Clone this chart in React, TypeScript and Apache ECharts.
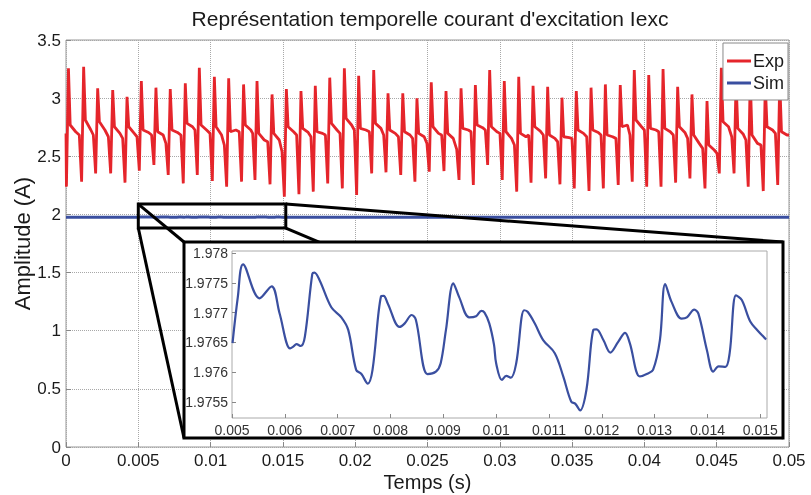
import React, { useEffect, useRef } from 'react';
import * as echarts from 'echarts';

// ---------- main axis ----------
const mainXTicks = [0, 0.005, 0.01, 0.015, 0.02, 0.025, 0.03, 0.035, 0.04, 0.045, 0.05];
const mainYTicks = [0, 0.5, 1, 1.5, 2, 2.5, 3, 3.5];

// ---------- Exp (measured) signal, read per spike ----------
const spikeT = [0.00017, 0.00122, 0.00219, 0.00323, 0.00422, 0.00521, 0.00622, 0.00721, 0.00825, 0.00922,
  0.01026, 0.01125, 0.01228, 0.01321, 0.01425, 0.01524, 0.01625, 0.01724, 0.01824, 0.01925,
  0.02024, 0.02128, 0.02227, 0.02329, 0.02427, 0.02526, 0.02628, 0.02732, 0.02831, 0.0293,
  0.03031, 0.03131, 0.0323, 0.03331, 0.0343, 0.03529, 0.03631, 0.0373, 0.03833, 0.0393,
  0.0403, 0.04129, 0.0423, 0.04329, 0.04433, 0.04532, 0.04634, 0.04732, 0.04836, 0.04936];
const upTip = [3.256, 3.270, 3.084, 3.070, 3.012, 3.147, 3.090, 3.078, 3.127, 3.262,
  3.184, 3.170, 3.118, 3.147, 3.032, 3.078, 3.061, 3.107, 3.176, 3.256,
  3.193, 3.242, 3.041, 3.041, 2.998, 3.136, 3.061, 3.084, 3.113, 3.242,
  3.147, 3.184, 3.107, 3.098, 3.004, 3.061, 3.090, 3.118, 3.113, 3.242,
  3.199, 3.250, 3.098, 3.032, 2.975, 3.262, 3.150, 3.180, 3.120, 3.150];
const downTip = [2.239, 2.282, 2.353, 2.353, 2.273, 2.376, 2.425, 2.339, 2.267, 2.339,
  2.287, 2.239, 2.282, 2.296, 2.259, 2.153, 2.173, 2.196, 2.267, 2.224,
  2.167, 2.353, 2.362, 2.339, 2.282, 2.368, 2.373, 2.296, 2.253, 2.425,
  2.296, 2.196, 2.273, 2.310, 2.259, 2.224, 2.201, 2.224, 2.253, 2.282,
  2.239, 2.239, 2.273, 2.310, 2.224, 2.353, 2.353, 2.239, 2.201, 2.253];
const preLevel = [2.697, 2.683, 2.683, 2.668, 2.654, 2.668, 2.683, 2.611, 2.683, 2.726,
  2.697, 2.597, 2.711, 2.697, 2.625, 2.539, 2.683, 2.668, 2.683, 2.697,
  2.726, 2.711, 2.683, 2.668, 2.654, 2.611, 2.683, 2.560, 2.711, 2.726,
  2.697, 2.597, 2.683, 2.683, 2.625, 2.654, 2.668, 2.683, 2.654, 2.683,
  2.726, 2.711, 2.683, 2.654, 2.568, 2.525, 2.668, 2.640, 2.597, 2.697];
const postLevel = [2.769, 2.812, 2.797, 2.754, 2.754, 2.726, 2.711, 2.726, 2.783, 2.769,
  2.754, 2.711, 2.769, 2.697, 2.697, 2.754, 2.740, 2.711, 2.783, 2.826,
  2.740, 2.783, 2.726, 2.711, 2.697, 2.754, 2.697, 2.740, 2.769, 2.754,
  2.711, 2.697, 2.754, 2.683, 2.668, 2.726, 2.726, 2.683, 2.754, 2.812,
  2.740, 2.740, 2.754, 2.683, 2.597, 2.797, 2.740, 2.683, 2.754, 2.711];
const midLevel = [2.711, 2.726, 2.726, 2.697, 2.697, 2.705, 2.683, 2.705, 2.754, 2.726,
  2.683, 2.726, 2.726, 2.640, 2.640, 2.711, 2.705, 2.697, 2.726, 2.769,
  2.726, 2.740, 2.697, 2.683, 2.668, 2.697, 2.654, 2.726, 2.746, 2.711,
  2.654, 2.668, 2.717, 2.654, 2.660, 2.697, 2.705, 2.668, 2.769, 2.754,
  2.726, 2.711, 2.705, 2.611, 2.554, 2.754, 2.689, 2.611, 2.726, 2.683];
const endLevel = 2.683;

// ---------- Sim (simulated) signal ----------
const simT = [0.00501, 0.00511, 0.00521, 0.00552, 0.00575, 0.0059, 0.0061, 0.00616, 0.00622, 0.0063,
  0.00638, 0.00652, 0.00656, 0.00666, 0.00688, 0.00707, 0.0072, 0.00735, 0.00745, 0.00757,
  0.00766, 0.00782, 0.00787, 0.00795, 0.00817, 0.00827, 0.0084, 0.00848, 0.0087, 0.00886,
  0.00895, 0.00905, 0.00919, 0.0093, 0.00949, 0.00962, 0.00972, 0.00978, 0.00987, 0.00996,
  0.01, 0.01011, 0.01019, 0.01028, 0.01038, 0.01053, 0.0106, 0.01073, 0.01089, 0.01111,
  0.01127, 0.01142, 0.0115, 0.01159, 0.01171, 0.01184, 0.0119, 0.01203, 0.01216, 0.01231,
  0.01244, 0.01253, 0.01272, 0.01285, 0.01297, 0.0131, 0.0132, 0.01332, 0.01351, 0.01361,
  0.01375, 0.01383, 0.01399, 0.01411, 0.01421, 0.01434, 0.01442, 0.01454, 0.01465, 0.01481,
  0.01494, 0.01511];
const simV = [1.97649, 1.97726, 1.97781, 1.97724, 1.97744, 1.97699, 1.9764, 1.97643, 1.97647, 1.97644,
  1.9766, 1.97765, 1.97767, 1.97754, 1.97709, 1.97692, 1.97671, 1.97604, 1.97597, 1.97581,
  1.97604, 1.97727, 1.97728, 1.97715, 1.97676, 1.97682, 1.97696, 1.97688, 1.97597, 1.97601,
  1.97615, 1.97671, 1.97749, 1.97726, 1.97692, 1.97694, 1.97703, 1.977, 1.97682, 1.97646,
  1.97615, 1.97587, 1.97594, 1.97591, 1.97615, 1.97704, 1.97701, 1.97682, 1.97654, 1.97632,
  1.97593, 1.97551, 1.97547, 1.97536, 1.97571, 1.97671, 1.97672, 1.97654, 1.97633, 1.97651,
  1.97666, 1.97649, 1.97593, 1.97597, 1.97604, 1.97654, 1.97748, 1.97718, 1.9769, 1.97692,
  1.97705, 1.97698, 1.97637, 1.97601, 1.9761, 1.97609, 1.97632, 1.97729, 1.97721, 1.97685,
  1.97671, 1.97655];
const simStartLevel = 1.9767;
const simEndLevel = 1.9767;

// ---------- inset axis ----------
const inXTicks = [0.005, 0.006, 0.007, 0.008, 0.009, 0.01, 0.011, 0.012, 0.013, 0.014, 0.015];
const inYTicks = [1.9755, 1.976, 1.9765, 1.977, 1.9775, 1.978];
const inXRange = [0.005, 0.015127];
const inYRange = [1.975233, 1.978033];

// zoomed window in the main plot
const zoomX = [0.005, 0.0152];
const zoomY = [1.883, 2.089];

const FONT = 'Liberation Sans, Arial, Helvetica, sans-serif';
const fmt = (v: number) => String(parseFloat(v.toFixed(5)));

export default function App() {
  const ref = useRef<HTMLDivElement>(null);
  useEffect(() => {
    const chart = echarts.init(ref.current!, null, { renderer: 'svg' });

    const expData: number[][] = [];
    spikeT.forEach((t, i) => {
      expData.push([Math.max(0, t - 0.0003), preLevel[i]]);
      expData.push([t - 0.00014, downTip[i]]);
      expData.push([t, upTip[i]]);
      expData.push([t + 0.00012, postLevel[i]]);
      expData.push([t + 0.0005, midLevel[i]]);
    });
    expData.push([0.05, endLevel]);

    const simMain: number[][] = [[0, simStartLevel]];
    simT.forEach((t, i) => simMain.push([t, simV[i]]));
    simMain.push([0.05, simEndLevel]);
    const simInset = simT.map((t, i) => [t, simV[i]]);

    const dotted = { type: 'dotted' as const, color: '#a8a8a8', width: 1 };

    chart.setOption({
      animation: false,
      textStyle: { fontFamily: FONT },
      title: {
        text: "Représentation temporelle courant d'excitation Iexc",
        left: 425,
        textAlign: 'center',
        top: 3,
        textStyle: { fontFamily: FONT, fontSize: 21, fontWeight: 'normal', color: '#1a1a1a' },
      },
      legend: {
        data: ['Exp', 'Sim'],
        orient: 'vertical',
        right: 23,
        top: 43,
        icon: 'rect',
        itemWidth: 24,
        itemHeight: 3,
        itemGap: 4,
        padding: [9, 4, 8, 4],
        backgroundColor: '#fff',
        borderColor: '#888',
        borderWidth: 1,
        textStyle: { fontFamily: FONT, fontSize: 18, color: '#1a1a1a', padding: [0, 0, 0, -3] },
      },
      grid: [
        { left: 66, right: 22, top: 40, bottom: 48, outerBoundsMode: 'none', containLabel: false, show: true, backgroundColor: '#fff', borderColor: '#999', borderWidth: 1 },
        { left: 232, top: 251, width: 535, height: 167, outerBoundsMode: 'none', containLabel: false, show: true, backgroundColor: '#fff', borderColor: '#aaa', borderWidth: 1, z: 10 },
      ],
      xAxis: [
        {
          type: 'value', gridIndex: 0, min: 0, max: 0.05, interval: 0.005,
          name: 'Temps (s)', nameLocation: 'middle', nameGap: 25, nameMoveOverlap: false,
          nameTextStyle: { fontFamily: FONT, fontSize: 20, color: '#1a1a1a' },
          axisLine: { show: false },
          axisTick: { inside: true, length: 5, lineStyle: { color: '#888' } },
          axisLabel: { fontSize: 17, color: '#1a1a1a', margin: 5, formatter: fmt },
          splitLine: { show: true, lineStyle: dotted },
        },
        {
          type: 'value', gridIndex: 1, min: inXRange[0], max: inXRange[1],
          axisLine: { show: false },
          axisTick: { inside: true, length: 4, customValues: inXTicks, lineStyle: { color: '#888' } },
          axisLabel: { fontSize: 14, color: '#333', margin: 5, customValues: inXTicks, formatter: fmt },
          splitLine: { show: false },
          z: 11,
        },
      ],
      yAxis: [
        {
          type: 'value', gridIndex: 0, min: 0, max: 3.5, interval: 0.5,
          name: 'Amplitude (A)', nameLocation: 'middle', nameGap: 33, nameMoveOverlap: false,
          nameTextStyle: { fontFamily: FONT, fontSize: 22, color: '#1a1a1a' },
          axisLine: { show: false },
          axisTick: { inside: true, length: 5, lineStyle: { color: '#888' } },
          axisLabel: { fontSize: 17, color: '#1a1a1a', margin: 5, formatter: fmt },
          splitLine: { show: true, lineStyle: dotted },
        },
        {
          type: 'value', gridIndex: 1, min: inYRange[0], max: inYRange[1],
          axisLine: { show: false },
          axisTick: { inside: true, length: 4, customValues: inYTicks, lineStyle: { color: '#888' } },
          axisLabel: { fontSize: 14, color: '#333', margin: 4, customValues: inYTicks, formatter: fmt },
          splitLine: { show: false },
          z: 11,
        },
      ],
      series: [
        {
          name: 'Exp', type: 'line', xAxisIndex: 0, yAxisIndex: 0, data: expData,
          showSymbol: false, symbol: 'none', color: '#e5252b',
          lineStyle: { color: '#e5252b', width: 2.8 }, z: 2,
        },
        {
          name: 'Sim', type: 'line', xAxisIndex: 0, yAxisIndex: 0, data: simMain,
          showSymbol: false, symbol: 'none', color: '#3a4fa0',
          lineStyle: { color: '#3a4fa0', width: 3 }, z: 2,
        },
        {
          name: 'Sim zoom', type: 'line', xAxisIndex: 1, yAxisIndex: 1, data: simInset,
          showSymbol: false, symbol: 'none', smooth: 0.35, color: '#3a4fa0',
          lineStyle: { color: '#3a4fa0', width: 2.2 }, z: 12,
          markLine: {
            silent: true, symbol: ['none', 'none'], label: { show: false },
            lineStyle: { type: 'dotted', color: '#a8a8a8', width: 1 },
            data: [
              ...inYTicks.map((v) => ({ yAxis: v })),
              ...inXTicks.map((v) => ({ xAxis: v })),
            ],
          },
        },
      ],
    });

    const p = (x: number, y: number) => chart.convertToPixel({ xAxisIndex: 0, yAxisIndex: 0 }, [x, y]) as number[];
    const tl = p(zoomX[0], zoomY[1]);
    const tr = p(zoomX[1], zoomY[1]);
    const bl = p(zoomX[0], zoomY[0]);
    const br = p(zoomX[1], zoomY[0]);
    const box = { x: 184, y: 242, w: 599, h: 196 };
    const line = (a: number[], b: number[]) => ({
      type: 'line', z: 5, silent: true,
      shape: { x1: a[0], y1: a[1], x2: b[0], y2: b[1] },
      style: { stroke: '#000', lineWidth: 3 },
    });
    chart.setOption({
      graphic: [
        {
          type: 'rect', z: 5, silent: true,
          shape: { x: tl[0], y: tl[1], width: tr[0] - tl[0], height: bl[1] - tl[1] },
          style: { fill: 'none', stroke: '#000', lineWidth: 3 },
        },
        line(tl, [box.x, box.y]),
        line(bl, [box.x, box.y + box.h]),
        line(tr, [box.x + box.w, box.y]),
        line(br, [box.x + box.w, box.y + box.h]),
        {
          type: 'rect', z: 8, silent: true,
          shape: { x: box.x, y: box.y, width: box.w, height: box.h },
          style: { fill: '#fff', stroke: '#000', lineWidth: 3 },
        },
      ],
    });

    return () => chart.dispose();
  }, []);
  return <div ref={ref} style={{ position: 'fixed', left: 0, top: 0, width: 811, height: 495 }} />;
}
